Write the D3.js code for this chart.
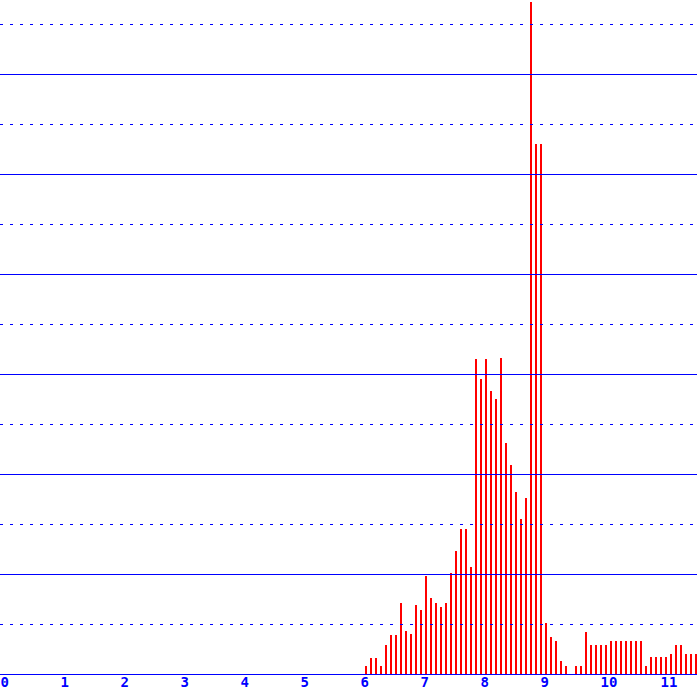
<!DOCTYPE html>
<html>
<head>
<meta charset="utf-8">
<script src="https://cdn.jsdelivr.net/npm/d3@7/dist/d3.min.js"></script>
<style>
  html, body { margin: 0; padding: 0; background: #fff; }
  svg { display: block; }
</style>
</head>
<body>
<script>
// ---- data ----
const xTickLabels = ["0","1","2","3","4","5","6","7","8","9","10","11"];
const gridLevels = [1,2,3,4,5,6,7,8,9,10,11,12,13];
const binStart = 6;          // first bin starts at 6
const binsPerUnit = 12;      // bin width 1/12
const binValues = [
  0.16, 0.32, 0.32, 0.16, 0.58, 0.78, 0.78, 1.42, 0.86, 0.80, 1.38, 1.28,
  1.96, 1.52, 1.42, 1.34, 1.42, 2.02, 2.46, 2.90, 2.90, 2.14, 6.30, 5.90,
  6.30, 5.66, 5.50, 6.32, 4.62, 4.18, 3.64, 3.10, 3.52, 13.44, 10.60, 10.60,
  1.02, 0.74, 0.66, 0.26, 0.16, 0.00, 0.16, 0.16, 0.84, 0.58, 0.58, 0.58,
  0.58, 0.66, 0.66, 0.66, 0.66, 0.66, 0.66, 0.66, 0.16, 0.34, 0.34, 0.34,
  0.34, 0.40, 0.58, 0.58, 0.40, 0.40, 0.40
];

// ---- layout ----
const W = 697, H = 694;
const baseY = 674;

const svg = d3.select("body").append("svg")
  .attr("width", W).attr("height", H);

const x = d3.scaleLinear().domain([0, W / 60]).range([0, W]);
const y = d3.scaleLinear().domain([0, baseY / 50]).range([baseY, 0]);

// bars
svg.append("g").selectAll("rect")
  .data(binValues)
  .enter().append("rect")
  .attr("x", (d, i) => Math.round(x(binStart + (i + 1) / binsPerUnit)))
  .attr("width", 2)
  .attr("y", d => y(d))
  .attr("height", d => baseY - y(d))
  .attr("fill", "#ff0000")
  .attr("shape-rendering", "crispEdges");

// grid lines
svg.append("g").selectAll("line")
  .data(gridLevels)
  .enter().append("line")
  .attr("x1", 0).attr("x2", W)
  .attr("y1", d => Math.round(y(d)) + 0.5)
  .attr("y2", d => Math.round(y(d)) + 0.5)
  .attr("stroke", "#0000ff")
  .attr("stroke-width", 1)
  .attr("stroke-dasharray", d => d % 2 === 1 ? "3,7" : null)
  .attr("shape-rendering", "crispEdges");

// baseline axis
const xAxis = d3.axisBottom(x)
  .tickValues(xTickLabels.map(Number))
  .tickFormat((d, i) => xTickLabels[i])
  .tickSize(0)
  .tickPadding(0);

const ax = svg.append("g")
  .attr("transform", `translate(0,${baseY + 0.5})`)
  .call(xAxis);
ax.select(".domain")
  .attr("d", `M0,0H${W}`)
  .attr("stroke", "#0000ff")
  .attr("shape-rendering", "crispEdges");
ax.selectAll("text")
  .attr("text-anchor", "start")
  .attr("dy", null)
  .attr("x", 0)
  .attr("y", 12.5)
  .attr("fill", "#0000ff")
  .style("font-family", "'DejaVu Sans Mono', monospace")
  .style("font-weight", "bold")
  .style("font-size", "14px");
</script>
</body>
</html>
